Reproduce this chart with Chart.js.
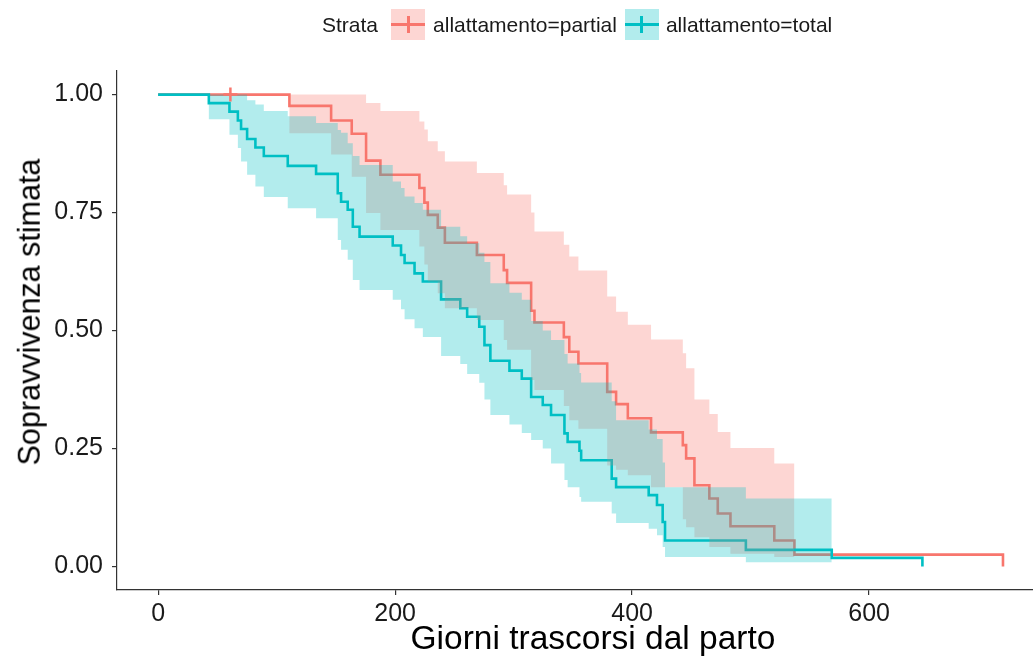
<!DOCTYPE html>
<html>
<head>
<meta charset="utf-8">
<script src="https://cdn.jsdelivr.net/npm/chart.js@4.4.1/dist/chart.umd.min.js"></script>
<style>
  html, body { margin: 0; padding: 0; background: #fff; overflow: hidden; }
  #wrap { position: relative; width: 1044px; height: 657px; font-family: "Liberation Sans", Arial, sans-serif; }
  #legend { position: absolute; top: 9px; left: 322px; height: 31px; display: flex; align-items: center;
            font-size: 21px; color: #1a1a1a; }
  .key { position: relative; width: 34px; height: 31px; }
  .key .h { position: absolute; left: 0; right: 0; top: 14px; height: 3px; }
  .key .v { position: absolute; left: 15.5px; width: 3px; top: 7px; height: 17px; }
  #xtitle { position: absolute; left: 0; width: 1186px; top: 621px; text-align: center;
            font-size: 33.5px; line-height: 34px; color: #000; white-space: nowrap; }
  #ytitle { position: absolute; left: 29px; top: 312px; transform: translate(-50%, -50%) rotate(-90deg);
            font-size: 30.5px; line-height: 1; color: #000; white-space: nowrap; }
</style>
</head>
<body>
<div id="wrap">
  <canvas id="myChart1" width="1044" height="657"></canvas>
  <div id="legend">
    <span>Strata</span>
    <div class="key" style="margin-left:13px;margin-right:8px;background:rgba(248,118,109,0.3)"><div class="h" style="background:#F8766D"></div><div class="v" style="background:#F8766D"></div></div>
    <span>allattamento=partial</span>
    <div class="key" style="margin-left:8px;margin-right:7px;background:rgba(0,191,196,0.3)"><div class="h" style="background:#00BFC4"></div><div class="v" style="background:#00BFC4"></div></div>
    <span>allattamento=total</span>
  </div>
  <div id="xtitle">Giorni trascorsi dal parto</div>
  <div id="ytitle">Sopravvivenza stimata</div>
</div>
<script>
const ctx = document.getElementById('myChart1');

// allattamento=partial
const partialTime = [0, 110.8, 146, 163.4, 175.5, 187.6, 220.5, 224.7, 227.6, 236, 242, 269, 291.7, 294.5, 314.8, 317.6,
  342.4, 347, 354.7, 379, 386.5, 396.4, 416, 442.8, 445.6, 452.6, 465.2, 472.3, 483, 520, 537, 713];
const partialSurv = [1, 0.976, 0.945, 0.917, 0.860, 0.830, 0.802, 0.771, 0.745, 0.718, 0.686, 0.660, 0.628, 0.601, 0.542, 0.517,
  0.486, 0.455, 0.430, 0.370, 0.344, 0.314, 0.284, 0.257, 0.229, 0.172, 0.144, 0.112, 0.085, 0.055, 0.025, 0];
// confidence band, up to t = 537
const partialUpper = [1, 1, 1, 1, 0.982, 0.965, 0.943, 0.926, 0.901, 0.880, 0.858, 0.834, 0.808, 0.788, 0.750, 0.710,
  0.682, 0.657, 0.627, 0.572, 0.540, 0.512, 0.481, 0.452, 0.420, 0.354, 0.323, 0.285, 0.251, 0.218, 0.218];
const partialLower = [1, 0.918, 0.873, 0.826, 0.749, 0.713, 0.678, 0.640, 0.604, 0.579, 0.547, 0.522, 0.480, 0.459, 0.395, 0.374,
  0.340, 0.310, 0.292, 0.214, 0.205, 0.193, 0.168, 0.100, 0.083, 0.062, 0.041, 0.041, 0.027, 0.020, 0.014];
const partialCensor = [61];

// allattamento=total
const totalTime = [0, 42.8, 60.2, 67.3, 70, 75.1, 82.1, 89.2, 109.4, 133.3, 151.6, 154.4, 160, 164.3, 170, 198, 205, 208,
  216.4, 223.4, 238.8, 255, 260.8, 271, 275.4, 280.4, 296.5, 306.9, 314.8, 324.6, 331.6, 342.9, 345.6, 355.6, 357,
  382.8, 386.5, 414, 421, 425.8, 427.8, 496, 568.5, 645];
const totalSurv = [1, 0.982, 0.964, 0.945, 0.927, 0.906, 0.888, 0.870, 0.849, 0.832, 0.791, 0.773, 0.756, 0.720, 0.699, 0.680, 0.660, 0.643,
  0.621, 0.604, 0.566, 0.547, 0.529, 0.508, 0.469, 0.436, 0.415, 0.398, 0.359, 0.342, 0.321, 0.282, 0.264, 0.245, 0.225,
  0.186, 0.168, 0.151, 0.130, 0.094, 0.055, 0.035, 0.018, 0];
// confidence band, up to t = 568.5
const totalUpper = [1, 1, 1, 1, 1, 0.988, 0.979, 0.965, 0.954, 0.940, 0.925, 0.919, 0.897, 0.870, 0.851, 0.816, 0.802, 0.784,
  0.770, 0.756, 0.720, 0.700, 0.685, 0.665, 0.645, 0.600, 0.580, 0.565, 0.520, 0.500, 0.480, 0.450, 0.430, 0.410, 0.390,
  0.350, 0.310, 0.290, 0.270, 0.220, 0.168, 0.144, 0.144];
const totalLower = [1, 0.948, 0.915, 0.887, 0.858, 0.830, 0.805, 0.783, 0.759, 0.738, 0.692, 0.671, 0.650, 0.607, 0.586, 0.565, 0.545, 0.524,
  0.505, 0.486, 0.446, 0.429, 0.408, 0.389, 0.354, 0.321, 0.301, 0.283, 0.268, 0.250, 0.218, 0.183, 0.168, 0.147, 0.137,
  0.112, 0.092, 0.080, 0.066, 0.041, 0.020, 0.009, 0.009];

const xTicks = [0, 200, 400, 600];
const yTicks = [0, 0.25, 0.5, 0.75, 1];

const red = '#F8766D';
const teal = '#00BFC4';

function pts(xs, ys) {
  return ys.map((y, i) => ({x: xs[i], y: y}));
}

// KM steps: hold the previous value until the next time, then drop
function band(xs, ys, fill, color) {
  return {
    data: pts(xs, ys),
    stepped: 'before',
    borderWidth: 0,
    borderColor: 'transparent',
    backgroundColor: color,
    pointRadius: 0,
    fill: fill
  };
}

new Chart(ctx, {
  type: 'line',
  data: {
    datasets: [
      {
        data: partialCensor.map(t => ({x: t, y: 1})),
        showLine: false,
        pointStyle: 'cross',
        pointRadius: 7,
        borderColor: red,
        borderWidth: 2.5
      },
      band(totalTime, totalUpper, '+1', 'rgba(0,191,196,0.3)'),
      band(totalTime, totalLower, false, 'transparent'),
      band(partialTime, partialUpper, '+1', 'rgba(248,118,109,0.3)'),
      band(partialTime, partialLower, false, 'transparent'),
      {
        data: pts(totalTime, totalSurv),
        stepped: 'before',
        borderColor: teal,
        borderWidth: 2.6,
        pointRadius: 0,
        fill: false
      },
      {
        data: pts(partialTime, partialSurv),
        stepped: 'before',
        borderColor: red,
        borderWidth: 2.6,
        pointRadius: 0,
        fill: false
      }
    ]
  },
  options: {
    responsive: false,
    devicePixelRatio: 1,
    animation: false,
    events: [],
    layout: { padding: { top: 71, right: 0, bottom: 0, left: 0 } },
    plugins: {
      legend: { display: false },
      tooltip: { enabled: false }
    },
    scales: {
      x: {
        type: 'linear',
        min: -34.7,
        max: 739.6,
        afterBuildTicks: s => { s.ticks = xTicks.map(v => ({value: v})); },
        afterFit: s => { s.height = 67; },
        ticks: {
          color: '#1a1a1a',
          padding: 4,
          font: { family: 'Liberation Sans', size: 25 },
          callback: v => String(v)
        },
        grid: { display: true, drawOnChartArea: false, drawTicks: true, tickLength: 5, color: '#333', lineWidth: 1.2 },
        border: { display: true, color: '#333', width: 1.2 },
        title: { display: false }
      },
      y: {
        min: -0.05,
        max: 1.05,
        afterBuildTicks: s => { s.ticks = yTicks.map(v => ({value: v})); },
        afterFit: s => { s.width = 117; },
        ticks: {
          color: '#1a1a1a',
          padding: 9,
          font: { family: 'Liberation Sans', size: 25 },
          callback: v => v.toFixed(2)
        },
        grid: { display: true, drawOnChartArea: false, drawTicks: true, tickLength: 5, color: '#333', lineWidth: 1.2 },
        border: { display: true, color: '#333', width: 1.2 },
        title: { display: false }
      }
    }
  }
});
</script>
</body>
</html>
